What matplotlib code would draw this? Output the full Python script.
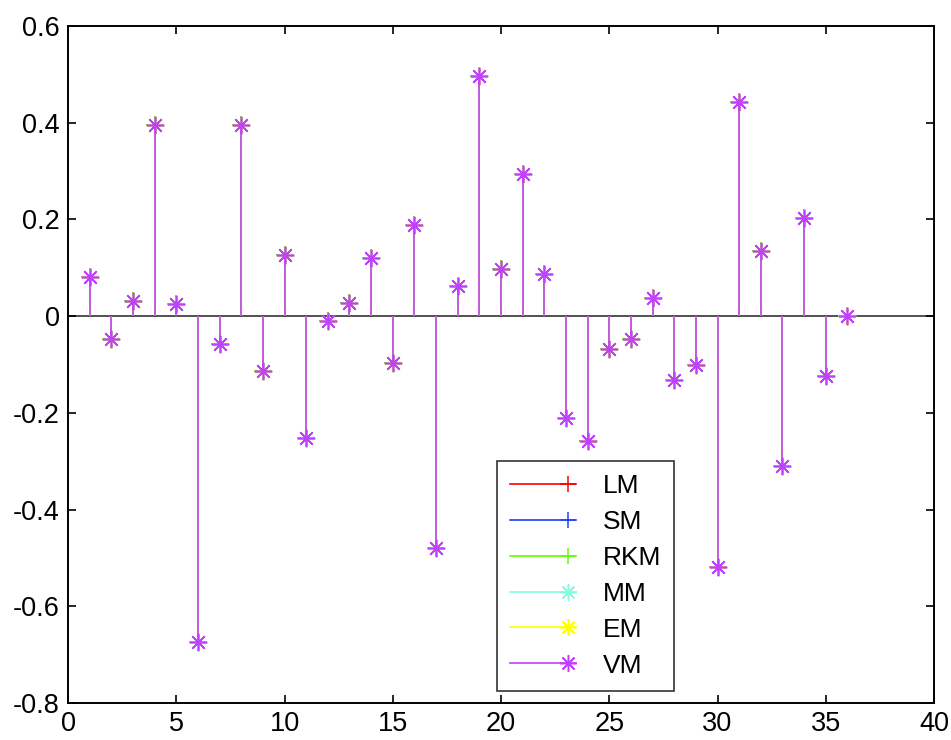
import numpy as np
import matplotlib
matplotlib.use('Agg')
import matplotlib.pyplot as plt
from matplotlib.lines import Line2D
from matplotlib.legend_handler import HandlerLine2DCompound

plt.rcParams['font.family'] = ['Liberation Sans', 'DejaVu Sans']

# index of each stem and its value (all six methods give the same values)
idx = np.arange(1, 37)
vals = [0.08, -0.048, 0.031, 0.395, 0.025, -0.674, -0.058, 0.395, -0.114, 0.126,
        -0.252, -0.010, 0.027, 0.120, -0.097, 0.188, -0.480, 0.062, 0.496, 0.097,
        0.294, 0.087, -0.211, -0.258, -0.068, -0.048, 0.037, -0.132, -0.101, -0.519,
        0.442, 0.134, -0.310, 0.203, -0.124, 0.0]

names = ['LM', 'SM', 'RKM', 'MM', 'EM', 'VM']
colors = ['#ff0000', '#2040ff', '#60ff00', '#80ffe0', '#ffff00', '#bf40ff']
star = (8, 2, 0)
markers = ['+', '+', '+', star, star, star]


class EndMarkerHandler(HandlerLine2DCompound):
    # MATLAB style: marker near the right end of the legend line
    def get_xdata(self, legend, xdescent, ydescent, width, height, fontsize):
        xdata = np.array([-xdescent, -xdescent + width])
        xmark = np.array([-xdescent + 0.88 * width])
        return xdata, xmark


fig = plt.figure(figsize=(9.51, 7.40), dpi=100)
ax = fig.add_axes([68 / 951, 37 / 740, 866 / 951, 677 / 740])

handles = []
for name, c, m in zip(names, colors, markers):
    ml, sl, bl = ax.stem(idx, vals, linefmt='-', basefmt=' ')
    plt.setp(sl, color=c, linewidth=1.2)
    plt.setp(ml, color=c, marker=m, markersize=12.5, markeredgewidth=1.2,
             markerfacecolor='none', markeredgecolor=c)
    h, = ax.plot([], [], color=c, marker=m, markersize=12, markeredgewidth=1.1,
                 linewidth=1.2, label=name)
    handles.append(h)

ax.axhline(0, color='#333333', linewidth=1.2, zorder=1)

ax.set_xlim(0, 40)
ax.set_ylim(-0.8, 0.6)
ax.set_xticks(np.arange(0, 41, 5))
ax.set_yticks(np.round(np.arange(-0.8, 0.61, 0.2), 1))
ax.set_yticklabels(['-0.8', '-0.6', '-0.4', '-0.2', '0', '0.2', '0.4', '0.6'])
ax.tick_params(direction='in', top=True, right=True, labelsize=19.5, length=6,
               width=1.2, pad=6)
for s in ax.spines.values():
    s.set_linewidth(1.4)

leg = ax.legend(handles=handles, loc='upper left',
                bbox_to_anchor=((497 - 68) / 866, (703 - 461) / 677),
                borderaxespad=0, fontsize=19, frameon=True, fancybox=False,
                edgecolor='black', handlelength=2.5, handletextpad=1.0,
                labelspacing=0.45, borderpad=0.5, numpoints=1,
                handler_map={Line2D: EndMarkerHandler()})
leg.get_frame().set_linewidth(1.2)

plt.savefig('out.png')
